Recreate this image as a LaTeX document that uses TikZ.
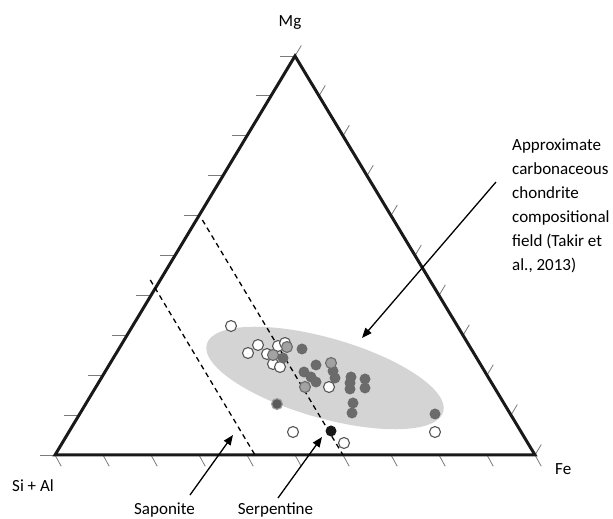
\documentclass[tikz,border=0pt]{standalone}
\usepackage{fontspec}
\setmainfont{Carlito}
\usetikzlibrary{calc,arrows.meta}
\definecolor{ellgray}{HTML}{D4D4D4}
\definecolor{darkdot}{HTML}{6B6B6B}
\definecolor{graydot}{HTML}{A2A2A2}
\definecolor{ringgray}{HTML}{555555}
\definecolor{tickgray}{HTML}{7A7A7A}
\begin{document}
\begin{tikzpicture}[x=1pt,y=1pt,
  side/.style={line width=3pt,black!90,line join=miter},
  tickline/.style={line width=0.8pt,tickgray},
  guide/.style={line width=1.3pt,black,dash pattern=on 5pt off 4pt},
  pointer/.style={line width=1.3pt,black,-{Triangle[length=10pt,width=8pt]}},
  lbl/.style={font=\fontsize{17}{20}\selectfont,inner sep=0pt},
  dot/.style={circle,minimum size=11pt,inner sep=0pt},
  opendot/.style={dot,draw=ringgray,fill=white,line width=1.1pt},
  darkfill/.style={dot,fill=darkdot},
  grayfill/.style={dot,fill=graydot,draw=darkdot,line width=1.1pt},
  blackfill/.style={dot,fill=black!90}]
\useasboundingbox (0,0) rectangle (613,519);
\coordinate (A) at (55,64);
\coordinate (B) at (535,64);
\coordinate (C) at (295,463);
% compositional field
\fill[ellgray,rotate around={-16:(325,141)}] (325,141) ellipse (123 and 40);
% ticks
\foreach \k in {0,...,10} {
  \draw[tickline] ($(A)!\k/10!(C)$) -- ++(-15,0);
  \draw[tickline] ($(B)!\k/10!(C)$) -- ++(6.3,10.5);
  \draw[tickline] ($(A)!\k/10!(B)$) -- ++(6.2,-11.2);
}
% triangle
\draw[side] (A) -- (B) -- (C) -- cycle;
% dashed guides
\coordinate (sapT) at (150.3,239);
\coordinate (sapB) at (255,64);
\coordinate (serT) at (202.4,299);
\coordinate (serB) at (343,64);
\draw[guide] (sapT) -- (sapB);
\draw[guide] (serT) -- (serB);
% data points
\foreach \x/\y [count=\i] in {231/193,248/166,258/174,267/165,278/173,285/176,273/155,280/152,329/132,293/87,344/76,435/87}
  \node[opendot] (o\i) at (\x,\y) {};
\foreach \x/\y [count=\i] in {283/161,302/170,316/154,333/148,335/141,304/147,311/142,316/137,351/142,350/136,350/130,365/140,365/131,353/116,352/106,435/105}
  \node[darkfill] (d\i) at (\x,\y) {};
\foreach \x/\y [count=\i] in {273/164,287/172,331/156,305/132}
  \node[grayfill] (g\i) at (\x,\y) {};
\node[dot,fill=darkdot!85!black,draw=graydot,line width=1.1pt] (g5) at (277,115) {};
\node[blackfill] (k1) at (331,88) {};
% labels
\node[lbl,anchor=base] (mg) at (290,492) {Mg};
\node[lbl,anchor=base west] (sial) at (12,27) {Si + Al};
\node[lbl,anchor=base west] (fe) at (555,44) {Fe};
\node[lbl,anchor=base] (sap) at (164.5,4.5) {Saponite};
\node[lbl,anchor=base] (serp) at (275.5,4.5) {Serpentine};
\node[inner sep=0pt,anchor=base west] (field) at (512,368)
  {\parbox[t]{100pt}{\raggedright\fontsize{17}{24}\selectfont Approximate\\carbonaceous\\chondrite\\compositional\\field (Takir et\\al., 2013)}};
% pointers
\coordinate (fs) at (496,337);
\coordinate (ft) at (362,181);
\coordinate (ss) at (190,24);
\coordinate (st) at (233,84);
\coordinate (ps) at (278,21);
\coordinate (pt) at (322,82);
\draw[pointer] (fs) -- (ft);
\draw[pointer] (ss) -- (st);
\draw[pointer] (ps) -- (pt);
\end{tikzpicture}
\end{document}
